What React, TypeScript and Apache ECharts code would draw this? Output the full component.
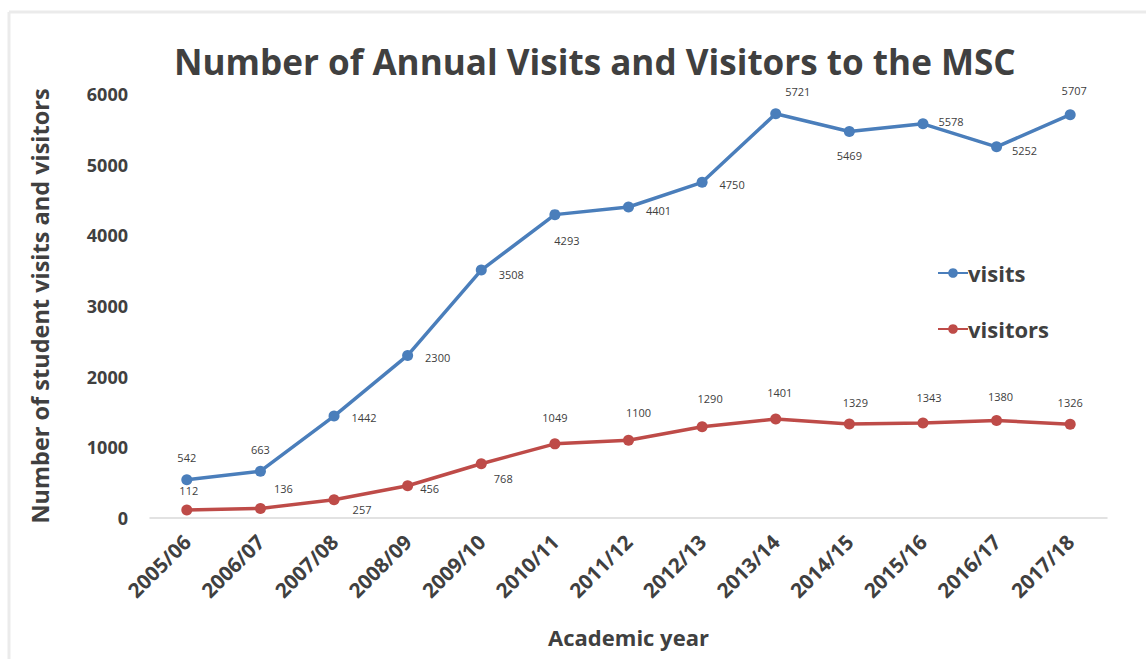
import React, { useEffect, useRef } from "react";
import * as echarts from "echarts";

const categories = [
  "2005/06", "2006/07", "2007/08", "2008/09", "2009/10", "2010/11", "2011/12",
  "2012/13", "2013/14", "2014/15", "2015/16", "2016/17", "2017/18",
];
const visits = [542, 663, 1442, 2300, 3508, 4293, 4401, 4750, 5721, 5469, 5578, 5252, 5707];
const visitors = [112, 136, 257, 456, 768, 1049, 1100, 1290, 1401, 1329, 1343, 1380, 1326];
const yTicks = [0, 1000, 2000, 3000, 4000, 5000, 6000];

// label placement offsets (layout only)
const visitsLabelOffsets: [number, number][] = [
  [0, -22], [0, -22], [30, 1], [30, 2], [30, 4], [12, 26], [30, 4],
  [30, 2], [22, -22], [0, 24], [28, -2], [28, 4], [4, -24],
];
const visitorsLabelOffsets: [number, number][] = [
  [2, -20], [23, -20], [28, 10], [22, 3], [22, 15], [0, -26], [10, -28],
  [8, -28], [4, -26], [6, -22], [6, -26], [4, -24], [0, -22],
];

const BLUE = "#4a7ebb";
const RED = "#be4b48";
const TEXT = "#404040";
const FONT = "'Open Sans', 'Noto Sans', sans-serif";

function buildData(values: number[], offsets: [number, number][]) {
  return values.map((v, i) => ({
    value: v,
    label: { offset: offsets[i] },
  }));
}

export default function App() {
  const ref = useRef<HTMLDivElement>(null);
  useEffect(() => {
    if (!ref.current) return;
    const chart = echarts.init(ref.current, undefined, { renderer: "svg" });
    const labelCommon = {
      show: true,
      position: "inside",
      color: TEXT,
      fontSize: 11,
      fontFamily: FONT,
    };
    chart.setOption({
      animation: false,
      backgroundColor: "#ffffff",
      title: {
        text: "Number of Annual Visits and Visitors to the MSC",
        left: 169,
        top: 38,
        textStyle: {
          fontFamily: FONT,
          fontWeight: "bold",
          fontSize: 35.1,
          color: TEXT,
        },
      },
      graphic: [
        { type: "line", shape: { x1: 9, y1: 12, x2: 1146, y2: 12 }, style: { stroke: "#ebebeb", lineWidth: 3 } },
        { type: "line", shape: { x1: 9, y1: 12, x2: 9, y2: 659 }, style: { stroke: "#ebebeb", lineWidth: 3 } },
      ],
      legend: {
        orient: "vertical",
        left: 932,
        top: 257,
        itemGap: 34,
        itemWidth: 30,
        itemHeight: 12,
        textStyle: {
          fontFamily: FONT,
          fontWeight: "bold",
          fontSize: 22,
          color: TEXT,
          padding: [0, 0, 0, -5],
        },
        data: ["visits", "visitors"],
      },
      grid: { left: 150, right: 39, top: 94, bottom: 141, containLabel: false },
      xAxis: {
        type: "category",
        data: categories,
        boundaryGap: true,
        name: "Academic year",
        nameLocation: "middle",
        nameGap: 108,
        nameTextStyle: { fontFamily: FONT, fontWeight: "bold", fontSize: 22, color: TEXT },
        axisLine: { show: true, lineStyle: { color: "#d9d9d9", width: 1.5 } },
        axisTick: { show: false },
        axisLabel: {
          rotate: 45,
          interval: 0,
          margin: 20,
          fontFamily: FONT,
          fontWeight: "bold",
          fontSize: 20.5,
          color: TEXT,
        },
      },
      yAxis: {
        type: "value",
        min: 0,
        max: 6000,
        interval: 1000,
        name: "Number of student visits and visitors",
        nameLocation: "middle",
        nameGap: 98,
        nameTextStyle: { fontFamily: FONT, fontWeight: "bold", fontSize: 23.5, color: TEXT },
        axisLine: { show: false },
        axisTick: { show: false },
        splitLine: { show: false },
        axisLabel: {
          margin: 22,
          fontFamily: FONT,
          fontWeight: "bold",
          fontSize: 18,
          color: TEXT,
          formatter: (v: number) => (yTicks.includes(v) ? String(v) : ""),
        },
      },
      series: [
        {
          name: "visits",
          type: "line",
          data: buildData(visits, visitsLabelOffsets),
          symbol: "circle",
          symbolSize: 11,
          lineStyle: { color: BLUE, width: 3.5 },
          itemStyle: { color: BLUE },
          label: labelCommon,
        },
        {
          name: "visitors",
          type: "line",
          data: buildData(visitors, visitorsLabelOffsets),
          symbol: "circle",
          symbolSize: 11,
          lineStyle: { color: RED, width: 3.5 },
          itemStyle: { color: RED },
          label: labelCommon,
        },
      ],
    });
    return () => chart.dispose();
  }, []);
  return (
    <div
      ref={ref}
      style={{ position: "fixed", left: 0, top: 0, width: 1146, height: 659 }}
    />
  );
}
